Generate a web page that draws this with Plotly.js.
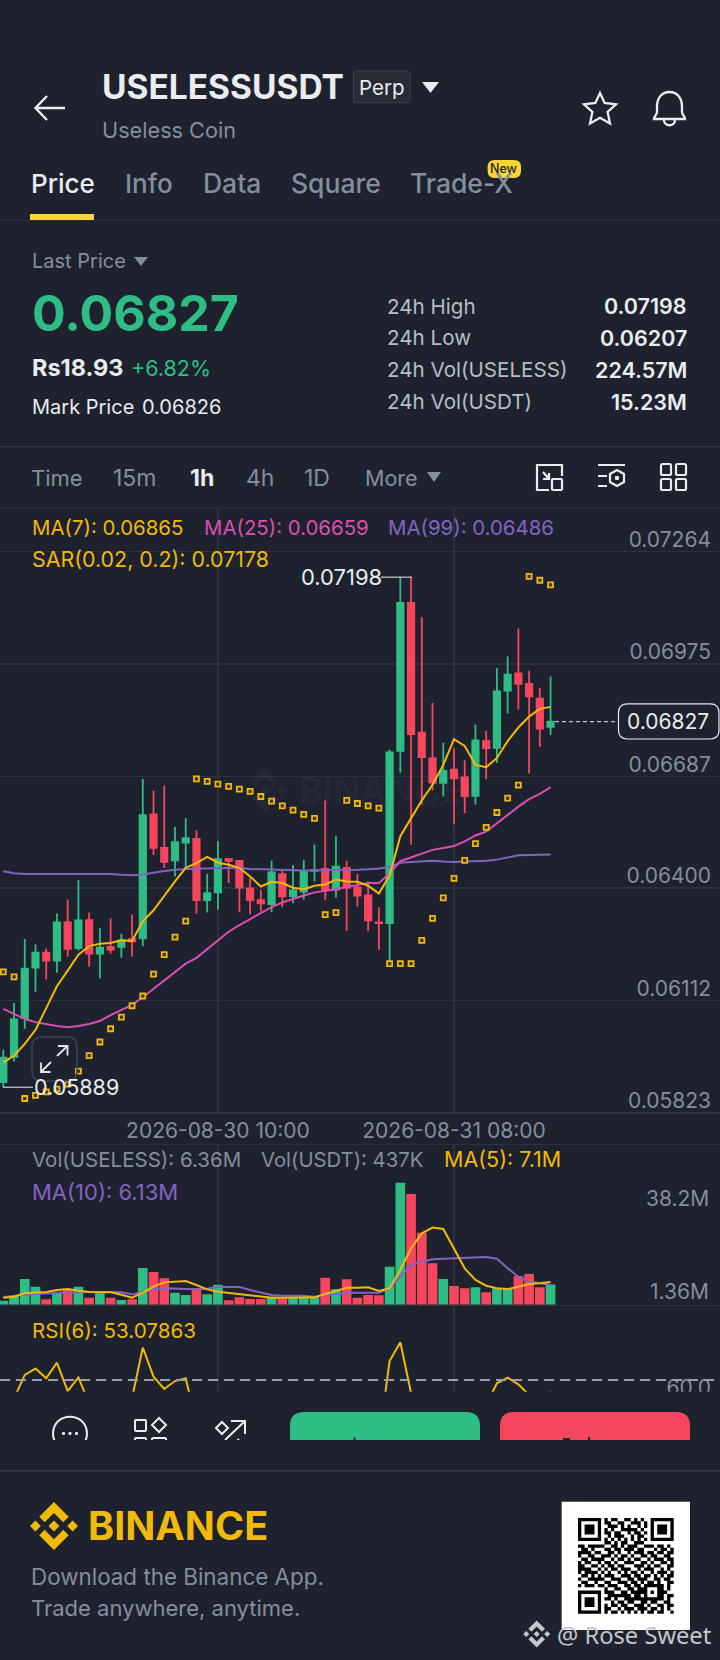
<!DOCTYPE html>
<html><head><meta charset="utf-8">
<script src="https://cdn.plot.ly/plotly-3.0.1.min.js"></script>
<style>html,body{margin:0;padding:0;background:#1e222e;overflow:hidden}#c{width:720px;height:1660px}</style>
</head><body><div id="c"></div>
<script>
const times=["2026-08-29 14:00","2026-08-29 15:00","2026-08-29 16:00","2026-08-29 17:00","2026-08-29 18:00","2026-08-29 19:00","2026-08-29 20:00","2026-08-29 21:00","2026-08-29 22:00","2026-08-29 23:00","2026-08-30 00:00","2026-08-30 01:00","2026-08-30 02:00","2026-08-30 03:00","2026-08-30 04:00","2026-08-30 05:00","2026-08-30 06:00","2026-08-30 07:00","2026-08-30 08:00","2026-08-30 09:00","2026-08-30 10:00","2026-08-30 11:00","2026-08-30 12:00","2026-08-30 13:00","2026-08-30 14:00","2026-08-30 15:00","2026-08-30 16:00","2026-08-30 17:00","2026-08-30 18:00","2026-08-30 19:00","2026-08-30 20:00","2026-08-30 21:00","2026-08-30 22:00","2026-08-30 23:00","2026-08-31 00:00","2026-08-31 01:00","2026-08-31 02:00","2026-08-31 03:00","2026-08-31 04:00","2026-08-31 05:00","2026-08-31 06:00","2026-08-31 07:00","2026-08-31 08:00","2026-08-31 09:00","2026-08-31 10:00","2026-08-31 11:00","2026-08-31 12:00","2026-08-31 13:00","2026-08-31 14:00","2026-08-31 15:00","2026-08-31 16:00","2026-08-31 17:00"];
const opens=[0.05902,0.05967,0.06066,0.06196,0.06234,0.06214,0.06312,0.06246,0.06318,0.06232,0.06249,0.06249,0.06269,0.06271,0.06589,0.06503,0.06471,0.06517,0.06526,0.06369,0.06389,0.06474,0.06470,0.06399,0.06369,0.06359,0.06436,0.06379,0.06391,0.06444,0.06449,0.06396,0.06452,0.06401,0.06381,0.06312,0.06310,0.06752,0.07132,0.06799,0.06733,0.06670,0.06704,0.06684,0.06637,0.06777,0.06760,0.06907,0.06951,0.06924,0.06886,0.06814];
const closes=[0.05965,0.06063,0.06193,0.06234,0.06214,0.06312,0.06244,0.06317,0.06232,0.06247,0.06242,0.06266,0.06263,0.06587,0.06503,0.06467,0.06518,0.06528,0.06369,0.06387,0.06474,0.06470,0.06401,0.06369,0.06361,0.06440,0.06379,0.06394,0.06444,0.06446,0.06396,0.06455,0.06401,0.06381,0.06317,0.06310,0.06748,0.07132,0.06795,0.06736,0.06671,0.06701,0.06682,0.06636,0.06779,0.06759,0.06905,0.06948,0.06924,0.06892,0.06809,0.06827];
const highs=[0.05985,0.06105,0.06269,0.06256,0.06244,0.06335,0.06371,0.06421,0.06337,0.06297,0.06322,0.06283,0.06332,0.06680,0.06650,0.06663,0.06557,0.06579,0.06548,0.06437,0.06521,0.06477,0.06472,0.06427,0.06396,0.06470,0.06447,0.06459,0.06472,0.06511,0.06625,0.06533,0.06470,0.06437,0.06417,0.06351,0.06755,0.07198,0.07198,0.07095,0.06875,0.06773,0.06759,0.06728,0.06819,0.06804,0.06965,0.06995,0.07066,0.06958,0.06914,0.06943];
const lows=[0.05889,0.05955,0.06039,0.06134,0.06166,0.06183,0.06224,0.06240,0.06198,0.06168,0.06232,0.06221,0.06224,0.06251,0.06485,0.06452,0.06430,0.06452,0.06335,0.06337,0.06345,0.06413,0.06338,0.06332,0.06340,0.06338,0.06351,0.06361,0.06371,0.06417,0.06369,0.06376,0.06290,0.06353,0.06290,0.06242,0.06206,0.06696,0.06511,0.06614,0.06650,0.06635,0.06564,0.06592,0.06614,0.06680,0.06721,0.06848,0.06858,0.06694,0.06762,0.06793];
const ma7=[0.05952,0.05970,0.06000,0.06036,0.06092,0.06148,0.06188,0.06229,0.06251,0.06257,0.06259,0.06266,0.06264,0.06315,0.06343,0.06381,0.06417,0.06452,0.06464,0.06480,0.06465,0.06460,0.06452,0.06430,0.06404,0.06416,0.06413,0.06401,0.06397,0.06406,0.06409,0.06422,0.06417,0.06416,0.06406,0.06386,0.06432,0.06533,0.06579,0.06625,0.06665,0.06716,0.06782,0.06765,0.06716,0.06710,0.06734,0.06777,0.06812,0.06840,0.06860,0.06865];
const ma25=[0.06090,0.06076,0.06064,0.06056,0.06051,0.06046,0.06043,0.06046,0.06051,0.06059,0.06074,0.06087,0.06100,0.06120,0.06142,0.06163,0.06186,0.06206,0.06221,0.06244,0.06267,0.06288,0.06305,0.06320,0.06335,0.06351,0.06363,0.06373,0.06381,0.06389,0.06393,0.06397,0.06403,0.06408,0.06413,0.06413,0.06437,0.06469,0.06479,0.06490,0.06498,0.06503,0.06508,0.06520,0.06535,0.06545,0.06566,0.06589,0.06609,0.06628,0.06642,0.06659];
const ma99=[0.06443,0.06438,0.06436,0.06436,0.06435,0.06435,0.06435,0.06435,0.06436,0.06436,0.06436,0.06434,0.06433,0.06435,0.06440,0.06444,0.06447,0.06449,0.06450,0.06450,0.06451,0.06451,0.06452,0.06449,0.06448,0.06447,0.06446,0.06445,0.06445,0.06446,0.06446,0.06446,0.06446,0.06447,0.06448,0.06450,0.06454,0.06465,0.06467,0.06469,0.06470,0.06468,0.06467,0.06468,0.06469,0.06470,0.06473,0.06478,0.06484,0.06485,0.06486,0.06486];
const sar=[0.06185,0.06172,0.05860,0.05868,0.05877,0.05884,0.05897,0.05930,0.05970,0.06005,0.06039,0.06069,0.06098,0.06123,0.06179,0.06229,0.06274,0.06315,0.06680,0.06674,0.06667,0.06661,0.06654,0.06648,0.06635,0.06623,0.06611,0.06600,0.06589,0.06579,0.06332,0.06337,0.06625,0.06617,0.06611,0.06605,0.06206,0.06206,0.06206,0.06266,0.06322,0.06375,0.06425,0.06471,0.06514,0.06556,0.06594,0.06631,0.06664,0.07200,0.07190,0.07178];
const volumes=[1.25,2.71,8.04,5.64,1.67,4.07,4.80,5.64,2.19,3.55,2.19,1.46,1.67,11.48,10.23,8.25,3.76,3.03,5.12,3.24,6.26,1.36,2.30,1.77,1.77,2.51,1.98,2.30,2.30,2.51,8.46,4.80,7.93,2.19,3.03,2.92,11.90,38.2,34.66,22.55,12.95,8.04,5.85,5.12,5.43,3.86,5.12,5.12,8.98,9.60,5.43,6.36];
const volMa5=[2.19,2.51,3.55,3.86,3.97,4.59,4.91,4.38,3.97,3.86,3.86,3.13,2.19,3.76,5.64,6.99,7.31,7.41,6.16,4.80,4.07,3.65,3.45,3.03,2.51,2.19,2.19,2.19,2.19,2.30,3.34,4.28,5.32,5.32,5.43,4.28,5.12,10.86,17.64,22.34,24.12,23.70,17.64,11.38,7.73,5.95,5.12,4.91,5.64,6.47,6.68,7.10];
const volMa10=[2.40,2.82,3.13,3.34,3.55,3.76,3.97,3.97,3.97,4.07,3.97,3.86,3.24,4.07,4.91,5.12,5.12,4.91,4.80,5.01,5.53,5.53,5.53,4.59,3.76,3.03,2.82,2.82,2.82,2.51,3.03,3.24,3.65,3.76,3.76,3.76,5.12,8.77,12.42,13.47,14.20,14.41,14.51,14.62,14.82,14.93,14.41,11.38,8.77,7.20,6.68,6.13];
const rsi6=[45,49.4,62.9,66.5,61,69.9,53.7,61.5,46.7,50,48,51,49.7,78.4,61.9,54.9,59.4,61,34.9,38,48,47,40,36,35,48,43,45,49,50,42,48,44,42,37,25,70.8,81.5,52.6,47,44,47,45,43,49,46,58.1,61.3,57.5,51.5,50,53.08];
const priceTicks=[0.07264,0.06975,0.06687,0.06400,0.06112,0.05823];
const priceTickText=["0.07264","0.06975","0.06687","0.06400","0.06112","0.05823"];
const timeTicks=["2026-08-30 10:00","2026-08-31 08:00"];
const qrRows=["11111110101100110101001111111","10000010110011001110101000001","10111010011101010010101011101","10111010101001111101001011101","10111010110110010110101011101","10000010010111001011001000001","11111110101010101010101111111","00000000110101100111000000000","11011111001101011100111011010","01101000110110111011000101101","11110110011010010111011011011","10011001110101101001101100110","01101111001011010110010111011","10110010110100111001101001101","11001101011011000111010110011","11110010101101110010111001010","10111101010010101101001011101","01101010111001110110110101011","10011111001110011011100110110","01100100110011101101011010011","10111011011100110110111111010","00000000100110011011100011010","11111110111001101111101011100","10000010011111110110100011011","10111010110100111111111111010","10111010001011011001101100110","10111010101101100111010011011","10000010110010111011101101010","11111110101101010101011011001"];

const BG="#1e222e",GREEN="#2EBD85",RED="#F6465D",YEL="#F0B90B",PINK="#D94FB0",PUR="#8462C4",GRID="#2c313d",GRAY="#848E9C",LIGHT="#EAECEF",FONT="Inter, 'Open Sans', sans-serif";
const W=720,H=1660,fy=y=>1-y/H,fx=x=>x/W;
const P=s=>s.replace(/(-?[\d.]+)[ ,](-?[\d.]+)/g,(m,a,b)=>fx(+a)+','+fy(+b));
const rr=(a,b,c,d,r)=>`M${a+r} ${b} L${c-r} ${b} Q${c} ${b} ${c} ${b+r} L${c} ${d-r} Q${c} ${d} ${c-r} ${d} L${a+r} ${d} Q${a} ${d} ${a} ${d-r} L${a} ${b+r} Q${a} ${b} ${a+r} ${b} Z`;
const shapes=[];
const S=(d,o={})=>shapes.push({type:'path',xref:'paper',yref:'paper',path:P(d),line:{color:o.c||'#EAECEF',width:o.w===undefined?2:o.w},fillcolor:o.f||'rgba(0,0,0,0)',layer:'above'});
const F=(d,f)=>S(d,{f:f,w:0,c:f});
const rect=(a,b,c,d,f)=>F(`M${a} ${b} L${c} ${b} L${c} ${d} L${a} ${d} Z`,f);
const logo=(cx,cy,size,f)=>{const k=size/126.9,polys=[[38.73,53.2,63.32,28.62,87.92,53.22,102.23,38.91,63.32,0,24.42,38.9],[0,63.31,14.3,49,28.61,63.31,14.3,77.61],[38.73,73.41,63.32,98,87.92,73.4,102.23,87.69,63.33,126.6,24.42,87.72],[98.28,63.31,112.58,49,126.89,63.3,112.58,77.62],[77.83,63.3,63.32,48.78,48.81,63.28,63.32,77.78]];
 let d='';polys.forEach(p=>{for(let i=0;i<p.length;i+=2){d+=(i?'L':'M')+(cx+(p[i]-63.45)*k)+' '+(cy+(p[i+1]-63.3)*k)+' ';}d+='Z ';});F(d,f);};

const ann=[];
const T=(x,y,t,size,color,o={})=>ann.push({xref:'paper',yref:'paper',x:fx(x),y:fy(y),text:t,showarrow:false,xanchor:o.a||'left',yanchor:'middle',borderpad:0,font:{family:o.fam||FONT,size:size,color:color,weight:o.b||400},opacity:o.op||1});

// chart overlays
logo(265,790,44,'rgba(255,255,255,0.035)');
shapes.push({type:'line',xref:'paper',yref:'y',x0:fx(555),x1:fx(617),y0:closes[51],y1:closes[51],line:{color:'#EAECEF',width:1,dash:'4px,3px'},layer:'above'});
shapes.push({type:'line',xref:'paper',yref:'y',x0:fx(381),x1:fx(412),y0:0.07198,y1:0.07198,line:{color:'#EAECEF',width:1},layer:'above'});
shapes.push({type:'line',xref:'paper',yref:'y',x0:fx(3),x1:fx(33),y0:0.05889,y1:0.05889,line:{color:'#EAECEF',width:1},layer:'above'});
shapes.push({type:'line',xref:'paper',yref:'y3',x0:0,x1:1,y0:60,y1:60,line:{color:'#9a9da3',width:2,dash:'10px,6px'},layer:'above'});
// panel separators
[[220.3],[446.7],[508],[1144.3]].forEach(v=>shapes.push({type:'line',xref:'paper',yref:'paper',x0:0,x1:1,y0:fy(v[0]),y1:fy(v[0]),line:{color:GRID,width:1.2},layer:'above'}));
// price pill and expand button
F(rr(618.5,703.8,719,739,9),BG);S(rr(618.5,703.8,719,739,9),{w:1.2});
S(rr(32,1037,77,1081,10),{c:'#3a4152',w:1.5});
S('M67.5 1046 L57 1056 M58 1046 L67.5 1046 L67.5 1055.5 M41 1072 L51 1062 M41 1062.5 L41 1072 L50.5 1072',{c:'#E4E6EA',w:1.8});
// top bar
S('M65 108 L36 108 M47 96 L35.5 108 L47 120',{w:2.4});
S(rr(353.5,71,410,102.7,3),{f:'#262b35',c:'#3a404c',w:1});
F('M422 82 L439 82 L430.5 93 Z',LIGHT);
S('M600 93 L604.6 103 L616 104.3 L607.6 112 L610 123.5 L600 117.8 L590 123.5 L592.4 112 L584 104.3 L595.4 103 Z',{w:2.3});
S('M669.5 92 C661 92 657 99 657 106 L657 112 C657 115 654 116 654 119 L685 119 C685 116 682 115 682 112 L682 106 C682 99 678 92 669.5 92 Z M664 120 C664 127 675 127 675 120',{w:2.3});
rect(30,214,94,220,'#FCD535');
F(rr(487.6,160,521,178,7),'#FCD535');
F('M134 257 L148 257 L141 266 Z',GRAY);
F('M427 472 L441 472 L434 482 Z',GRAY);
// toolbar icons
S('M537 478 L537 465 L562 465 L562 476 M537 478 L537 490 L549 490 M543 472 L549 479 M549 473 L549 479 L543 479',{w:2.2});
S(rr(552,479,562,490,1),{w:2.2});
S('M598 465 L625 465 M598 476 L607 476 M598 486 L607 486 M617 470 L624 474 L624 482 L617 486 L610 482 L610 474 Z',{w:2.2});
F(rr(615,476,619,480,1),LIGHT);
[[661,464],[676,464],[661,479],[676,479]].forEach(p=>S(rr(p[0],p[1],p[0]+10,p[1]+11,1.5),{w:2.2}));
// cover below RSI panel
rect(0,1391.7,720,1660,BG);
// bottom bar icons and buttons, clipped at 1440
S('M53 1434 C53 1411 87 1411 87 1434 C87 1445 75 1452 70 1452 C65 1452 53 1445 53 1434 Z',{w:2});
[[63.5],[70],[76.5]].forEach(v=>F(rr(v[0]-1.5,1432,v[0]+1.5,1435,1),LIGHT));
S(rr(135,1420,146,1431,1)+' '+rr(135,1438,146,1450,1)+' '+rr(152,1438,166,1450,1),{w:2});
S('M159 1418 L166 1425 L159 1432 L152 1425 Z',{w:2});
S('M222 1422 L228 1428 L222 1434 L216 1428 Z M225 1440 L245 1421 M231 1421 L245 1421 L245 1434 M236 1442 L239 1439',{w:2});
F(`M290 1440 L290 1426 Q290 1412 304 1412 L466 1412 Q480 1412 480 1426 L480 1440 Z`,GREEN);
F(`M500 1440 L500 1426 Q500 1412 514 1412 L676 1412 Q690 1412 690 1426 L690 1440 Z`,RED);
rect(353.5,1437.5,355.5,1440,'#1e222e');
rect(563,1438,570,1440,'#1e222e');rect(588,1437,590,1440,'#1e222e');
rect(0,1440,720,1660,BG);
// footer
shapes.push({type:'line',xref:'paper',yref:'paper',x0:0,x1:1,y0:fy(1470.7),y1:fy(1470.7),line:{color:'#363b47',width:1.6},layer:'above'});
logo(54,1526,48,YEL);
rect(561.7,1501.7,690,1630,'#FFFFFF');
(function(){let d='';const m=3.3,x0=578,y0=1518;qrRows.forEach((r,j)=>{[...r].forEach((c,i)=>{if(c==='1'){const a=x0+i*m,b=y0+j*m;d+=`M${a} ${b} L${a+m} ${b} L${a+m} ${b+m} L${a} ${b+m} Z `;}});});F(d,'#000000');})();
logo(536.7,1634,27,'#C4C7CD');

// text
T(101,86.7,'USELESSUSDT',33.5,LIGHT,{b:700});
T(381.7,87,'Perp',20.5,LIGHT,{a:'center'});
T(101,130,'Useless Coin',21.7,GRAY);
T(29.5,183,'Price',26,LIGHT,{b:500});
T(124,183,'Info',26,GRAY,{b:500});
T(201.5,183,'Data',26.5,GRAY,{b:500});
T(289.5,183,'Square',26.5,GRAY,{b:500});
T(409,183,'Trade-X',26.5,GRAY,{b:500});
T(504.3,169,'New',12.5,'#1E2329',{a:'center',b:500});
T(31,261,'Last Price',20,GRAY);
T(31,313,'0.06827',50,GREEN,{b:700});
T(31,368,'Rs18.93',23.5,LIGHT,{b:700});
T(130,368,'+6.82%',21.5,GREEN);
T(31,406.7,'Mark Price',20,LIGHT);
T(141,406.7,'0.06826',20,LIGHT);
[['24h High','0.07198',306],['24h Low','0.06207',338],['24h Vol(USELESS)','224.57M',369.7],['24h Vol(USDT)','15.23M',401.7]].forEach(r=>{T(386,r[2],r[0],20.6,'#B7BDC6');T(688,r[2],r[1],21.5,LIGHT,{a:'right',b:600});});
T(29.5,478,'Time',22,GRAY);T(111.5,478,'15m',23,GRAY);T(188.5,478,'1h',23,LIGHT,{b:700});T(244.5,478,'4h',23,GRAY);T(303,478,'1D',23,GRAY);T(363.5,478,'More',21.5,GRAY);
T(31,527.7,'MA(7): 0.06865',20.4,YEL);T(203,527.7,'MA(25): 0.06659',20.4,PINK);T(387,527.7,'MA(99): 0.06486',20.4,PUR);
T(31,559.3,'SAR(0.02, 0.2): 0.07178',21.4,YEL);
T(300,577,'0.07198',22,LIGHT);
T(32.5,1087,'0.05889',21.5,LIGHT);
T(709.5,721.4,'0.06827',21,LIGHT,{a:'right'});
T(298,790,'BINANCE',36,'rgba(255,255,255,0.035)',{b:700});
T(31,1159.3,'Vol(USELESS): 6.36M',20.5,GRAY);T(260,1159.3,'Vol(USDT): 437K',20.3,GRAY);T(443,1159.3,'MA(5): 7.1M',21.5,YEL);
T(31,1191.7,'MA(10): 6.13M',22,PUR);
T(31,1330,'RSI(6): 53.07863',20.6,YEL);
T(709.5,1198,'38.2M',21,GRAY,{a:'right'});
T(709.5,1291.7,'1.36M',21,GRAY,{a:'right'});
T(87,1526,'BINANCE',39.5,YEL,{b:700});
T(30,1576.7,'Download the Binance App.',22.4,GRAY);
T(30,1608,'Trade anywhere, anytime.',22,GRAY);
T(556,1635,'@ Rose Sweet',23.7,'#C4C7CD',{fam:"'Noto Sans', sans-serif"});

const xr=[-0.3075,66.79];
const xbase={type:'category',categoryorder:'array',categoryarray:times,range:xr,showgrid:true,gridcolor:GRID,gridwidth:1.2,zeroline:false,tickmode:'array',tickvals:timeTicks,ticktext:timeTicks,ticks:'',fixedrange:true,rangeslider:{visible:false}};
const traces=[
 {type:'candlestick',x:times,open:opens,high:highs,low:lows,close:closes,xaxis:'x',yaxis:'y',whiskerwidth:0,increasing:{line:{color:GREEN,width:1.8},fillcolor:GREEN},decreasing:{line:{color:RED,width:1.8},fillcolor:RED},hoverinfo:'skip',showlegend:false},
 {type:'scatter',mode:'lines',x:times,y:ma99,line:{color:PUR,width:2},xaxis:'x',yaxis:'y',hoverinfo:'skip'},
 {type:'scatter',mode:'lines',x:times,y:ma25,line:{color:PINK,width:2},xaxis:'x',yaxis:'y',hoverinfo:'skip'},
 {type:'scatter',mode:'lines',x:times,y:ma7,line:{color:YEL,width:2},xaxis:'x',yaxis:'y',hoverinfo:'skip'},
 {type:'scatter',mode:'markers',x:times,y:sar,marker:{symbol:'square',size:5,color:'#3a3220',line:{color:YEL,width:1.8}},xaxis:'x',yaxis:'y',hoverinfo:'skip'},
 {type:'bar',x:times,y:volumes,marker:{color:closes.map((c,i)=>c>=opens[i]?GREEN:RED),line:{width:0}},xaxis:'x2',yaxis:'y2',hoverinfo:'skip'},
 {type:'scatter',mode:'lines',x:times,y:volMa10,line:{color:PUR,width:2},xaxis:'x2',yaxis:'y2',hoverinfo:'skip'},
 {type:'scatter',mode:'lines',x:times,y:volMa5,line:{color:YEL,width:2},xaxis:'x2',yaxis:'y2',hoverinfo:'skip'},
 {type:'scatter',mode:'lines',x:times,y:rsi6,line:{color:YEL,width:2},xaxis:'x3',yaxis:'y3',hoverinfo:'skip'}
];
const layout={width:W,height:H,margin:{l:0,r:0,t:0,b:0},paper_bgcolor:BG,plot_bgcolor:BG,showlegend:false,boxgap:0.15,bargap:0.1,font:{family:FONT},
 xaxis:Object.assign({},xbase,{anchor:'y',showticklabels:true,tickangle:0,tickfont:{size:21,color:GRAY,family:FONT},ticklabelstandoff:2}),
 xaxis2:Object.assign({},xbase,{anchor:'y2',showticklabels:false,showline:true,linecolor:GRID,linewidth:1.2}),
 xaxis3:Object.assign({},xbase,{anchor:'y3',showticklabels:false}),
 yaxis:{domain:[fy(1114),fy(508)],range:[0.058202,0.073754],side:'right',tickmode:'array',tickvals:priceTicks,ticktext:priceTickText,ticklabelposition:'inside',ticklabelstandoff:6,ticklabelshift:-12,tickfont:{size:21,color:GRAY,family:FONT},showgrid:true,gridcolor:GRID,gridwidth:1.2,zeroline:false,ticks:'',fixedrange:true},
 yaxis2:{domain:[fy(1304.7),fy(1144.3)],range:[0,50.2],showticklabels:false,showgrid:false,zeroline:false,ticks:'',fixedrange:true},
 yaxis3:{domain:[fy(1420),fy(1305)],range:[37.19,102.76],side:'right',tickmode:'array',tickvals:[60],ticktext:['60.0'],ticklabelposition:'inside',ticklabelstandoff:6,ticklabelshift:8,tickfont:{size:21,color:GRAY,family:FONT},showgrid:false,zeroline:false,ticks:'',fixedrange:true},
 shapes:shapes,annotations:ann};
Plotly.newPlot('c',traces,layout,{staticPlot:true,displayModeBar:false});
</script></body></html>
